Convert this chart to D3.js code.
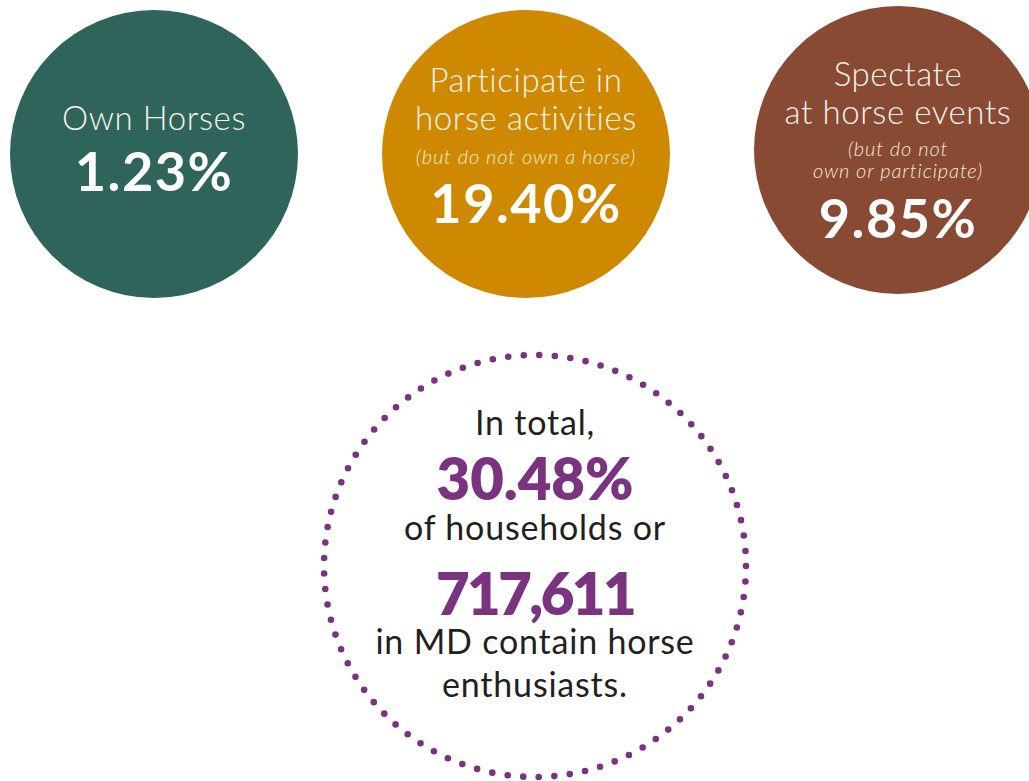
<!DOCTYPE html>
<html>
<head>
<meta charset="utf-8">
<script src="https://cdn.jsdelivr.net/npm/d3@7"></script>
<style>
  html, body { margin: 0; padding: 0; background: #ffffff; }
  svg { display: block; }
  text { font-family: "Lato", "Open Sans", sans-serif; }
</style>
</head>
<body>
<div class="chart"></div>
<script>
var WIDTH = 1029;
var HEIGHT = 781;

/* the three groups of households */
var categories = ["own", "participate", "spectate"];
var titles = [
  ["Own Horses"],
  ["Participate in", "horse activities"],
  ["Spectate", "at horse events"]
];
var notes = [
  [],
  ["(but do not own a horse)"],
  ["(but do not", "own or participate)"]
];
var shares = [1.23, 19.40, 9.85];
var colors = ["#2e645a", "#ce8900", "#884a33"];

/* the total */
var totalShare = 30.48;
var totalHouseholds = 717611;
var totalLines = ["In total,", "%share", "of households or", "%count",
                  "in MD contain horse", "enthusiasts."];

var svg = d3.select("div.chart")
            .append("svg")
            .attr("width", WIDTH)
            .attr("height", HEIGHT);

var x = d3.scalePoint().domain(categories).range([154, 898]);
var cy = d3.scaleOrdinal().domain(categories).range([154, 154, 150]);
var fmtPct = function (v) { return d3.format(".2f")(v) + "%"; };

var groups = svg.selectAll("g.bubble")
  .data(categories)
  .enter()
  .append("g")
  .attr("class", "bubble")
  .attr("transform", function (d) {
    return "translate(" + x(d) + "," + cy(d) + ")";
  });

groups.append("circle")
  .attr("r", 144)
  .attr("fill", function (d, i) { return colors[i]; });

/* Build each bubble's lines: title lines, italic notes, then the number */
var layouts = [
  { title: [-24], note: [], value: 37 },
  { title: [-62, -24], note: [10], value: 69 },
  { title: [-64, -26], note: [6, 28], value: 88 }
];

groups.each(function (d, i) {
  var g = d3.select(this);
  var L = layouts[i];
  titles[i].forEach(function (t, j) {
    g.append("text")
     .attr("text-anchor", "middle")
     .attr("y", L.title[j])
     .attr("fill", "#f6f1ea")
     .attr("font-size", 33)
     .attr("font-weight", 300)
     .attr("letter-spacing", 0.6)
     .text(t);
  });
  notes[i].forEach(function (t, j) {
    g.append("text")
     .attr("text-anchor", "middle")
     .attr("y", L.note[j])
     .attr("fill", "#f6e9d6")
     .attr("font-size", 20)
     .attr("font-weight", 300)
     .attr("font-style", "italic")
     .attr("letter-spacing", 0.9)
     .text(t);
  });
  g.append("text")
   .attr("text-anchor", "middle")
   .attr("y", L.value)
   .attr("fill", "#ffffff")
   .attr("font-size", 54)
   .attr("font-weight", 700)
   .attr("letter-spacing", 1.5)
   .text(fmtPct(shares[i]));
});

/* Dotted total ring */
var total = svg.append("g").attr("transform", "translate(535,566)");
var ringR = 211;
var nDots = 85;
total.append("circle")
  .attr("r", ringR)
  .attr("fill", "none")
  .attr("stroke", "#7a347f")
  .attr("stroke-width", 6.6)
  .attr("stroke-linecap", "round")
  .attr("stroke-dasharray", "0," + (2 * Math.PI * ringR / nDots));

var lineY = [-131, -66, -26, 49, 88, 131];
totalLines.forEach(function (t, j) {
  var isShare = t === "%share";
  var isCount = t === "%count";
  var big = isShare || isCount;
  total.append("text")
    .attr("text-anchor", "middle")
    .attr("y", lineY[j])
    .attr("fill", big ? "#7a347f" : "#231f20")
    .attr("font-size", big ? 58 : 34)
    .attr("font-weight", big ? 800 : 400)
    .attr("letter-spacing", isCount ? -2.5 : big ? 0 : 0.8)
    .text(isShare ? fmtPct(totalShare) : isCount ? d3.format(",")(totalHouseholds) : t);
});
</script>
</body>
</html>
